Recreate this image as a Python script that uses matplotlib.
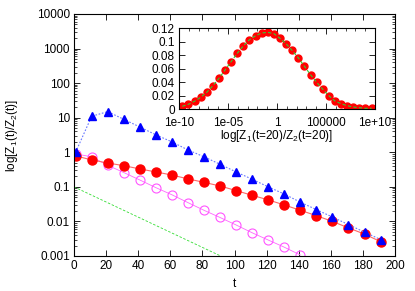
import numpy as np
import matplotlib
matplotlib.use("Agg")
import matplotlib.pyplot as plt
from matplotlib.ticker import LogLocator, FixedLocator, NullFormatter, MultipleLocator

plt.rcParams['font.family'] = ['Liberation Sans', 'DejaVu Sans']
plt.rcParams['mathtext.fontset'] = 'custom'
plt.rcParams['mathtext.rm'] = 'Liberation Sans'
plt.rcParams['mathtext.it'] = 'Liberation Sans:italic'

# main panel data
t_pts = [1, 11, 21, 31, 41, 51, 61, 71, 81, 91, 101, 111, 121, 131, 141, 151, 161, 171, 181, 191]
blue_vals = [1.0, 11, 15, 9, 5.4, 3.2, 2.0, 1.17, 0.74, 0.45, 0.27, 0.166, 0.10, 0.062, 0.036,
             0.022, 0.0134, 0.0081, 0.0049, 0.0030]
red_vals = [0.79, 0.60, 0.49, 0.41, 0.33, 0.27, 0.22, 0.17, 0.135, 0.106, 0.078, 0.057, 0.042,
            0.030, 0.021, 0.0147, 0.010, 0.0065, 0.0043, 0.0026]
t_mag = [1, 11, 21, 31, 41, 51, 61, 71, 81, 91, 101, 111, 121, 131, 141]
mag_vals = [0.90, 0.74, 0.42, 0.26, 0.158, 0.095, 0.059, 0.035, 0.021, 0.013, 0.0079, 0.0047,
            0.0029, 0.0018, 0.00107]
green_t = [0, 91.4]
green_vals = [0.1, 0.001]

# inset data
inset_logx = [-9.66, -9.04, -8.41, -7.79, -7.17, -6.54, -5.92, -5.30, -4.68, -4.05, -3.43,
              -2.81, -2.18, -1.56, -0.94, -0.31, 0.31, 0.93, 1.55, 2.18, 2.80, 3.42, 4.05,
              4.67, 5.29, 5.91, 6.54, 7.16, 7.78, 8.41, 9.03, 9.65]
inset_vals = [0.004, 0.007, 0.0115, 0.0174, 0.0248, 0.0347, 0.0457, 0.058, 0.0704, 0.083,
              0.094, 0.103, 0.109, 0.113, 0.114, 0.112, 0.105, 0.097, 0.087, 0.076, 0.0635,
              0.051, 0.0397, 0.0293, 0.0198, 0.0119, 0.0079, 0.0049, 0.003, 0.0019, 0.001, 0.001]

fig = plt.figure(figsize=(4.15, 2.91), dpi=100)
ax = fig.add_axes([74/415, 1-256/291, (395-74)/415, (256-14)/291])

ax.plot(green_t, green_vals, color='#33dd33', lw=0.6, ls=(0, (3, 2)))
ax.plot(t_mag, mag_vals, color='#ff66ff', lw=0.6, marker='o', ms=6.5, mfc='none',
        mec='#ff55ff', mew=0.8)
ax.plot(t_pts, red_vals, color='#ff6666', lw=0.8, marker='o', ms=6.5, mfc='red', mec='red')
ax.plot(t_pts, blue_vals, color='#6677ff', lw=0.8, ls=(0, (1.5, 1.5)), marker='^', ms=6,
        mfc='blue', mec='blue')

ax.set_yscale('log')
ax.set_xlim(0, 200)
ax.set_ylim(0.001, 10000)
ax.xaxis.set_major_locator(MultipleLocator(20))
ax.set_yticks([0.001, 0.01, 0.1, 1, 10, 100, 1000, 10000])
ax.set_yticklabels(['0.001', '0.01', '0.1', '1', '10', '100', '1000', '10000'])
ax.yaxis.set_minor_locator(LogLocator(base=10, subs=np.arange(2, 10), numticks=20))
ax.yaxis.set_minor_formatter(NullFormatter())
ax.tick_params(which='both', direction='in', top=True, right=True, labelsize=8.5, pad=3)
ax.tick_params(which='major', length=4, width=0.6)
ax.tick_params(which='minor', length=2, width=0.5)
for s in ax.spines.values():
    s.set_linewidth(0.8)
ax.set_xlabel('t', fontsize=8.5, labelpad=4)
ax.set_ylabel(r'log[Z$_1$(t)/Z$_2$(t)]', fontsize=8.5, labelpad=12)

# inset
ins = fig.add_axes([179/415, 1-109/291, (375-179)/415, (109-28.3)/291])
inset_x = [10.0 ** v for v in inset_logx]
ins.plot(inset_x, inset_vals, ls='none', marker='o', ms=5, color='red')
ins.plot(inset_x, inset_vals, color='#33cc33', lw=0.8, ls=(0, (3, 2)))
ins.set_xscale('log')
ins.set_xlim(1e-10, 1e10)
ins.set_ylim(0, 0.12)
ins.set_xticks([1e-10, 1e-5, 1, 1e5, 1e10])
ins.set_xticklabels(['1e-10', '1e-05', '1', '100000', '1e+10'])
ins.xaxis.set_minor_locator(FixedLocator([10.0 ** k for k in range(-10, 11) if k % 5 != 0]))
ins.xaxis.set_minor_formatter(NullFormatter())
ins.set_yticks([0, 0.02, 0.04, 0.06, 0.08, 0.1, 0.12])
ins.set_yticklabels(['0', '0.02', '0.04', '0.06', '0.08', '0.1', '0.12'])
ins.tick_params(which='both', direction='in', top=True, right=True, labelsize=8.5)
ins.tick_params(axis='x', pad=6)
ins.tick_params(axis='y', pad=3)
ins.tick_params(which='major', length=4, width=0.6)
ins.tick_params(which='minor', length=2, width=0.5)
for s in ins.spines.values():
    s.set_linewidth(0.8)
ins.set_xlabel(r'log[Z$_1$(t=20)/Z$_2$(t=20)]', fontsize=8.5, labelpad=-1)

fig.savefig('out.png', dpi=100)
